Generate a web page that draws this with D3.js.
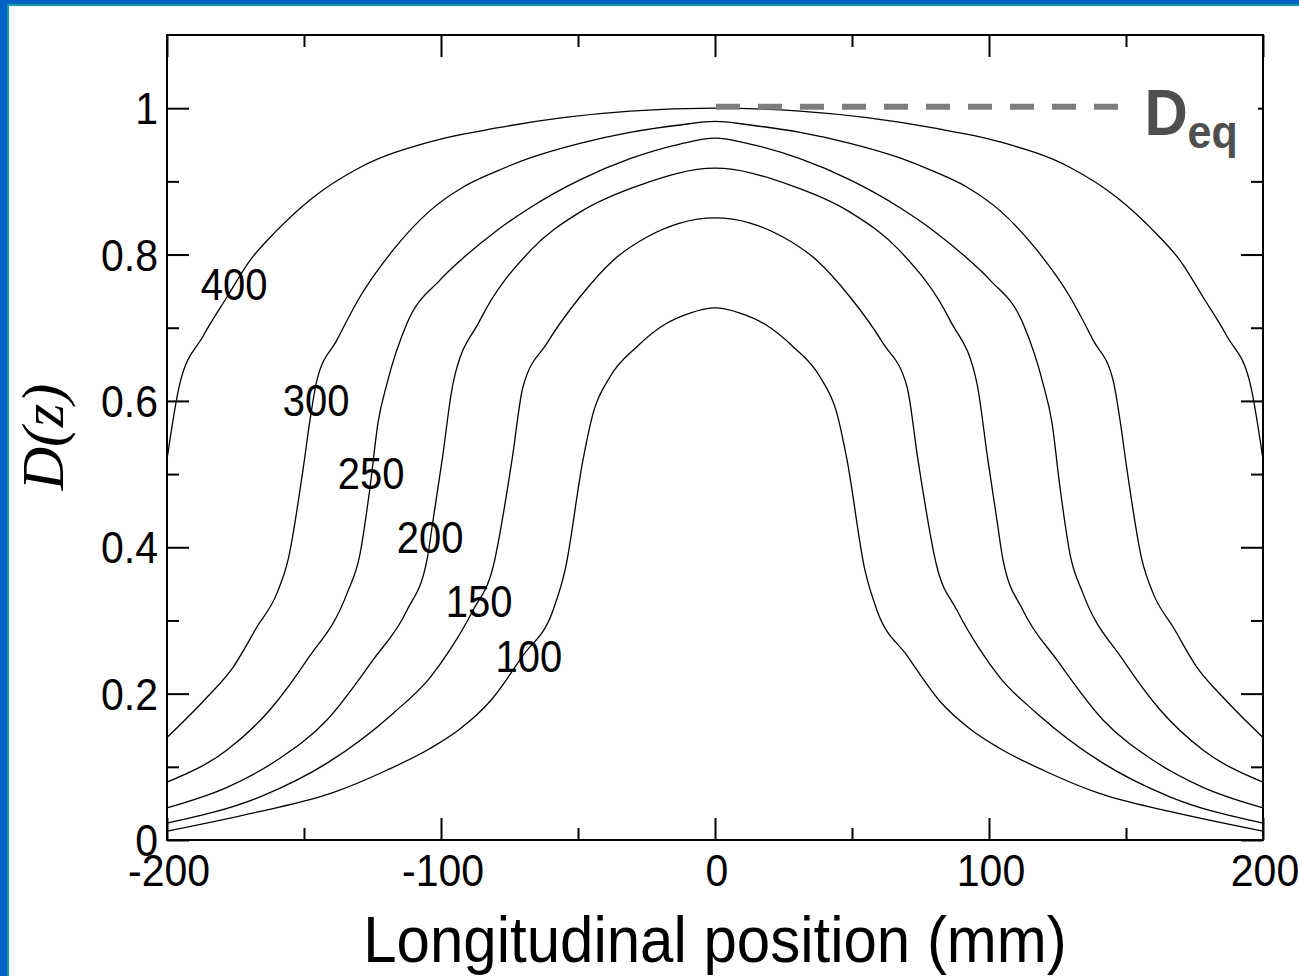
<!DOCTYPE html>
<html>
<head>
<meta charset="utf-8">
<script src="https://cdn.jsdelivr.net/npm/d3@7"></script>
<style>
  body { margin: 0; background: #fff; }
  svg { display: block; }
  .tick-label { font-family: "Liberation Sans", Arial, sans-serif; fill: #000; }
  .curve { fill: none; stroke: #000; stroke-width: 1.3; }
</style>
</head>
<body>
<div id="wrapper"></div>
<script>
// ticks
const zMajor = [-200, -100, 0, 100, 200]
const zMinor = [-150, -50, 50, 150]
const dMajor = [0, 0.2, 0.4, 0.6, 0.8, 1]
const dMinor = [0.1, 0.3, 0.5, 0.7, 0.9]
const zTickLabels = ["-200", "-100", "0", "100", "200"]
const dTickLabels = ["0", "0.2", "0.4", "0.6", "0.8", "1"]

// curves: [z (mm), D(z)]
const curve100 = [[-200,0.012],[-166,0.039],[-140,0.064],[-120,0.095],[-104,0.125],[-93,0.152],[-82,0.19],[-70.1,0.252],[-59.1,0.314],[-54.7,0.369],[-48.2,0.519],[-44.5,0.583],[-38.3,0.633],[-28.5,0.674],[-19,0.703],[-9.1,0.72],[0,0.727],
  [9.1,0.72],[19,0.703],[28.5,0.674],[38.3,0.633],[44.5,0.583],[48.2,0.519],[54.7,0.369],[59.1,0.314],[70.1,0.252],[82,0.19],[93,0.152],[104,0.125],[120,0.095],[140,0.064],[166,0.039],[200,0.012]]
const curve150 = [[-200,0.023],[-166,0.059],[-141.6,0.105],[-117.5,0.173],[-104,0.222],[-96.7,0.26],[-88.3,0.314],[-81,0.373],[-74.1,0.519],[-70.1,0.619],[-61.3,0.679],[-49.3,0.742],[-37.2,0.792],[-24.8,0.824],[-12.8,0.843],[0,0.85],
  [12.8,0.843],[24.8,0.824],[37.2,0.792],[49.3,0.742],[61.3,0.679],[70.1,0.619],[74.1,0.519],[81,0.373],[88.3,0.314],[96.7,0.26],[104,0.222],[117.5,0.173],[141.6,0.105],[166,0.059],[200,0.023]]
const curve200 = [[-200,0.044],[-178.1,0.072],[-159.9,0.109],[-141.6,0.164],[-124.8,0.246],[-112.4,0.314],[-105.1,0.383],[-102.9,0.437],[-99.6,0.519],[-95.6,0.624],[-85.8,0.71],[-67.5,0.805],[-49.3,0.858],[-27.4,0.895],[0,0.918],
  [27.4,0.895],[49.3,0.858],[67.5,0.805],[85.8,0.71],[95.6,0.624],[99.6,0.519],[102.9,0.437],[105.1,0.383],[112.4,0.314],[124.8,0.246],[141.6,0.164],[159.9,0.109],[178.1,0.072],[200,0.044]]
const curve250 = [[-200,0.079],[-178.1,0.123],[-162.4,0.178],[-148.9,0.246],[-134.3,0.337],[-129.6,0.39],[-125.9,0.482],[-123,0.57],[-119.7,0.624],[-112.4,0.706],[-100.4,0.765],[-92,0.795],[-79.6,0.833],[-67.5,0.864],[-49.3,0.902],[-31,0.931],[-12.8,0.951],[0,0.959],
  [12.8,0.951],[31,0.931],[49.3,0.902],[67.5,0.864],[79.6,0.833],[92,0.795],[100.4,0.765],[112.4,0.706],[119.7,0.624],[123,0.57],[125.9,0.482],[129.6,0.39],[134.3,0.337],[148.9,0.246],[162.4,0.178],[178.1,0.123],[200,0.079]]
const curve300 = [[-200,0.14],[-185.4,0.195],[-175.9,0.236],[-167.2,0.291],[-159.9,0.337],[-155.8,0.383],[-150.4,0.505],[-147.8,0.574],[-145.3,0.628],[-138,0.683],[-129.6,0.742],[-117.5,0.806],[-104,0.86],[-92,0.892],[-79.6,0.914],[-67.5,0.932],[-49.3,0.952],[-31,0.967],[-12.8,0.977],[0,0.982],
  [12.8,0.977],[31,0.967],[49.3,0.952],[67.5,0.932],[79.6,0.914],[92,0.892],[104,0.86],[117.5,0.806],[129.6,0.742],[138,0.683],[145.3,0.628],[147.8,0.574],[150.4,0.505],[155.8,0.383],[159.9,0.337],[167.2,0.291],[175.9,0.236],[185.4,0.195],[200,0.14]]
const curve400 = [[-200,0.52],[-195.3,0.624],[-186.9,0.688],[-178.1,0.742],[-169.7,0.792],[-159.9,0.833],[-146.7,0.878],[-129.6,0.919],[-104,0.954],[-79.6,0.973],[-55.5,0.987],[-31,0.996],[0,1.0],
  [31,0.996],[55.5,0.987],[79.6,0.973],[104,0.954],[129.6,0.919],[146.7,0.878],[159.9,0.833],[169.7,0.792],[178.1,0.742],[186.9,0.688],[195.3,0.624],[200,0.52]]

const curves = [curve100, curve150, curve200, curve250, curve300, curve400]
const curveNames = ["100", "150", "200", "250", "300", "400"]
// where each curve's label sits, in data units [z, D]
const labelSpots = [[-67.9,0.25],[-86.1,0.325],[-104,0.413],[-125.5,0.5],[-145.6,0.6],[-175.5,0.758]]

// equilibrium reference line
const deqStart = 0
const deqEnd = 148
const deqValue = 1.002

async function drawChart() {
  const width = 1299
  const height = 976
  const plot = { left: 167, right: 1263, top: 35, bottom: 840 }
  const stretch = 1.09   // glyphs in the source are a bit taller than wide

  const svg = d3.select("#wrapper")
    .append("svg")
      .attr("width", width)
      .attr("height", height)

  // slide frame: blue along the top and left edges
  svg.append("rect").attr("width", width).attr("height", height).attr("fill", "#fff")
  svg.append("rect").attr("x", 0).attr("y", 0).attr("width", width).attr("height", 6).attr("fill", "#0a9da8")
  svg.append("rect").attr("x", 0).attr("y", 0).attr("width", 9).attr("height", height).attr("fill", "#0a9da8")
  svg.append("rect").attr("x", 0).attr("y", 0).attr("width", width).attr("height", 4).attr("fill", "#0062c6")
  svg.append("rect").attr("x", 0).attr("y", 0).attr("width", 7).attr("height", height).attr("fill", "#0062c6")

  const x = d3.scaleLinear().domain([-200, 200]).range([plot.left, plot.right])
  const y = d3.scaleLinear().domain([0, 1.1]).range([plot.bottom, plot.top])

  // inward ticks on all four sides
  const tickGroups = [
    [d3.axisTop(x), `translate(0,${plot.bottom})`, zMajor, zMinor],
    [d3.axisBottom(x), `translate(0,${plot.top})`, zMajor, zMinor],
    [d3.axisRight(y), `translate(${plot.left},0)`, dMajor, dMinor],
    [d3.axisLeft(y), `translate(${plot.right},0)`, dMajor, dMinor]
  ]
  tickGroups.forEach(([axis, tr, major, minor]) => {
    [[major, 22], [minor, 12]].forEach(([vals, len]) => {
      const g = svg.append("g")
        .attr("transform", tr)
        .call(axis.tickValues(vals).tickSize(len).tickFormat(""))
      g.select(".domain").remove()
      g.selectAll(".tick line").attr("stroke", "#000").attr("stroke-width", 2)
    })
  })

  // frame
  svg.append("rect")
    .attr("x", plot.left)
    .attr("y", plot.top)
    .attr("width", plot.right - plot.left)
    .attr("height", plot.bottom - plot.top)
    .attr("fill", "none")
    .attr("stroke", "#000")
    .attr("stroke-width", 2)

  const stretchedText = (px, py, txt, size, anchor) => svg.append("text")
    .attr("class", "tick-label")
    .attr("transform", `translate(${px},${py}) scale(1,${stretch})`)
    .attr("text-anchor", anchor)
    .style("font-size", `${size}px`)
    .text(txt)

  // tick labels
  zMajor.forEach((v, i) => stretchedText(x(v) + 2, 886, zTickLabels[i], 41, "middle"))
  dMajor.forEach((v, i) => stretchedText(158, y(v) + 16, dTickLabels[i], 41, "end"))

  // axis titles
  stretchedText((plot.left + plot.right) / 2, 962, "Longitudinal position (mm)", 60, "middle")

  const yTitle = svg.append("text")
    .attr("transform", `translate(63,437) rotate(-90)`)
    .attr("text-anchor", "middle")
    .style("font-family", "'Liberation Serif', 'Times New Roman', serif")
    .style("font-style", "italic")
    .style("font-size", "60px")
  yTitle.append("tspan").text("D")
  yTitle.append("tspan").text("(z)")

  // curves
  const line = d3.line()
    .x(d => x(d[0]))
    .y(d => y(d[1]))
    .curve(d3.curveMonotoneX)

  svg.append("g")
    .selectAll("path")
    .data(curves)
    .join("path")
      .attr("class", "curve")
      .attr("d", line)

  // curve labels
  labelSpots.forEach((p, i) => {
    stretchedText(x(p[0]), y(p[1]) + 15, curveNames[i], 40, "middle")
  })

  // D_eq annotation
  svg.append("rect")
    .attr("x", x(deqEnd) + 12)
    .attr("y", y(deqValue) - 25)
    .attr("width", plot.right - 5 - x(deqEnd) - 12)
    .attr("height", 80)
    .attr("fill", "#fff")

  svg.append("line")
    .attr("x1", x(deqStart) + 1)
    .attr("x2", x(deqEnd))
    .attr("y1", y(deqValue))
    .attr("y2", y(deqValue))
    .attr("stroke", "#7d7d7d")
    .attr("stroke-width", 6)
    .attr("stroke-dasharray", "24 18")

  const deq = svg.append("g")
    .attr("transform", `translate(${x(deqEnd) + 24},135) scale(1,${stretch})`)
    .style("font-family", "'Liberation Sans', Arial, sans-serif")
    .style("font-weight", "bold")
    .style("fill", "#4f4f4f")
  deq.append("text").style("font-size", "60px").text("D")
  deq.append("text").attr("x", 43).attr("y", 12).style("font-size", "43px").text("eq")
}
drawChart()
</script>
</body>
</html>
